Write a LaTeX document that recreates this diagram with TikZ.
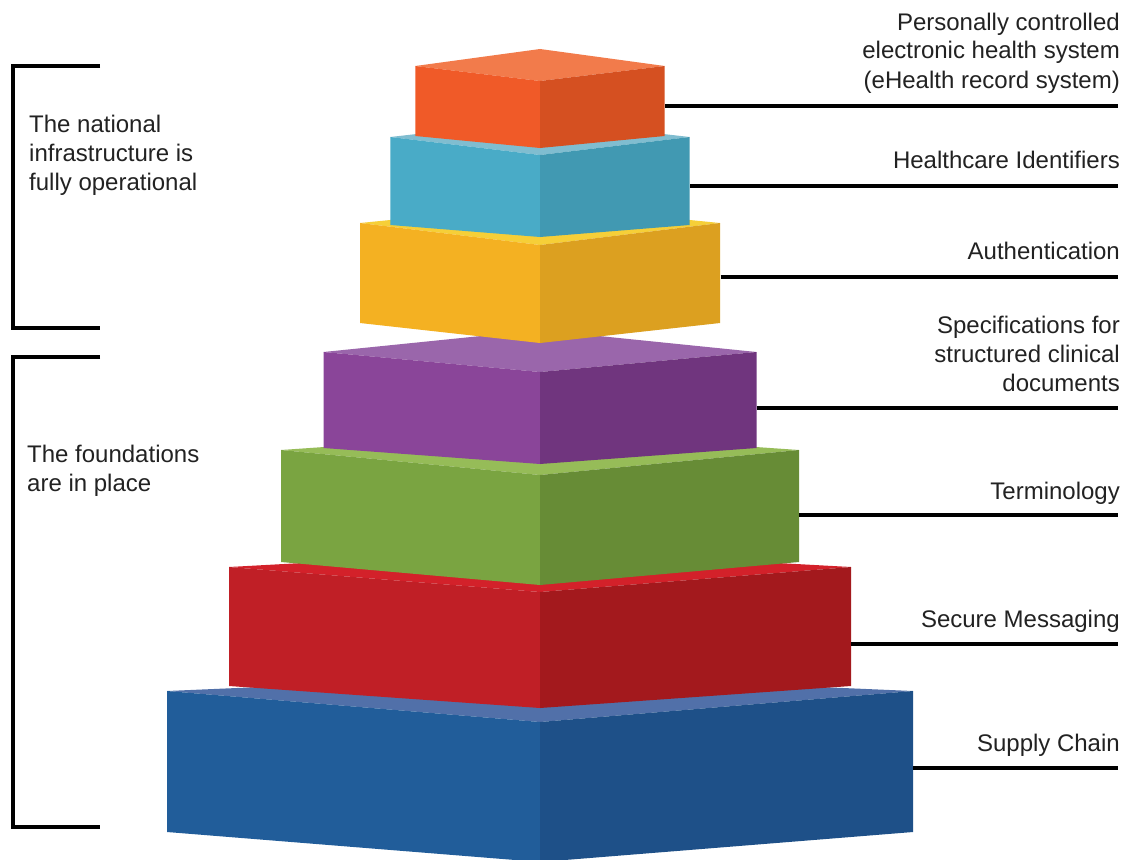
\documentclass[tikz,border=0pt]{standalone}
\usepackage{fontspec}
\setmainfont{Liberation Sans}
\definecolor{labelgray}{HTML}{222222}
% block colours: T = top face, L = left front, R = right front
\definecolor{orT}{HTML}{F27B4B}\definecolor{orL}{HTML}{F05A28}\definecolor{orR}{HTML}{D55021}
\definecolor{cyT}{HTML}{80BDD0}\definecolor{cyL}{HTML}{49ABC7}\definecolor{cyR}{HTML}{4199B2}
\definecolor{yeT}{HTML}{F6CF38}\definecolor{yeL}{HTML}{F4B122}\definecolor{yeR}{HTML}{DCA020}
\definecolor{puT}{HTML}{9A66AB}\definecolor{puL}{HTML}{8A4599}\definecolor{puR}{HTML}{70357E}
\definecolor{grT}{HTML}{96BC58}\definecolor{grL}{HTML}{7AA441}\definecolor{grR}{HTML}{678C36}
\definecolor{reT}{HTML}{D3212A}\definecolor{reL}{HTML}{C01F26}\definecolor{reR}{HTML}{A3191D}
\definecolor{blT}{HTML}{5170A9}\definecolor{blL}{HTML}{215D9A}\definecolor{blR}{HTML}{1E5088}
% #1 colour prefix, #2 half width, #3 top corner y, #4 top front y, #5 top back y,
% #6 bottom corner y, #7 bottom centre y
\newcommand\pyrblock[7]{%
  \fill[#1T] (540-#2,#3) -- (540,#5) -- (540+#2,#3) -- (540,#4) -- cycle;
  \fill[#1L] (540-#2,#3) -- (540,#4) -- (540.4,#4) -- (540.4,#7) -- (540,#7) -- (540-#2,#6) -- cycle;
  \fill[#1R] (540,#4) -- (540+#2,#3) -- (540+#2,#6) -- (540,#7) -- cycle;
}
\begin{document}
\begin{tikzpicture}[x=1pt,y=-1pt,
  lbl/.style={font=\fontsize{24}{29}\selectfont, text=labelgray, inner sep=0pt},
  conn/.style={line width=3.2pt, black},
  brack/.style={line width=3.6pt, black}]
\fill[white] (0,0) rectangle (1131,859);
\useasboundingbox (0,0) rectangle (1131,859);

% pyramid, bottom to top
\pyrblock{bl}{373}{691}{722}{675}{832}{862}
\pyrblock{re}{311}{567}{592}{550}{686}{708}
\pyrblock{gr}{259}{450}{475}{432}{562}{585}
\pyrblock{pu}{216.5}{352}{372}{330}{448}{464}
\pyrblock{ye}{180}{223}{245}{205}{323}{343}
\pyrblock{cy}{149.7}{137}{155}{120}{225}{237}
\pyrblock{or}{124.7}{66}{81}{49}{136}{148}

% connector end points
\coordinate (ehr-a) at (665,106);   \coordinate (ehr-b) at (1118,106);
\coordinate (hid-a) at (690,186);   \coordinate (hid-b) at (1118,186);
\coordinate (auth-a) at (720.5,277); \coordinate (auth-b) at (1118,277);
\coordinate (spec-a) at (756.5,408); \coordinate (spec-b) at (1118,408);
\coordinate (term-a) at (799,515);  \coordinate (term-b) at (1118,515);
\coordinate (msg-a) at (851,644);   \coordinate (msg-b) at (1118,644);
\coordinate (sup-a) at (913,768);   \coordinate (sup-b) at (1118,768);
\draw[conn] (ehr-a) -- (ehr-b);
\draw[conn] (hid-a) -- (hid-b);
\draw[conn] (auth-a) -- (auth-b);
\draw[conn] (spec-a) -- (spec-b);
\draw[conn] (term-a) -- (term-b);
\draw[conn] (msg-a) -- (msg-b);
\draw[conn] (sup-a) -- (sup-b);

% right labels (multi-line nodes: base = last line)
\node[lbl, anchor=base east, align=right] (l-ehr) at (1120,88)
  {Personally controlled\\electronic health system\\(eHealth record system)};
\node[lbl, anchor=base east] (l-hid) at (1120,168) {Healthcare Identifiers};
\node[lbl, anchor=base east] (l-auth) at (1120,259) {Authentication};
\node[lbl, anchor=base east, align=right] (l-spec) at (1120,391)
  {Specifications for\\structured clinical\\documents};
\node[lbl, anchor=base east] (l-term) at (1120,499) {Terminology};
\node[lbl, anchor=base east] (l-msg) at (1120,627) {Secure Messaging};
\node[lbl, anchor=base east] (l-sup) at (1120,751) {Supply Chain};

% left brackets
\coordinate (b1-t) at (100,66);  \coordinate (b1-b) at (100,328);
\coordinate (b2-t) at (100,357); \coordinate (b2-b) at (100,827);
\draw[brack] (b1-t) -- (13,66) -- (13,328) -- (b1-b);
\draw[brack] (b2-t) -- (13,357) -- (13,827) -- (b2-b);

\node[lbl, anchor=base west, align=left] (l-nat) at (29,190)
  {The national\\infrastructure is\\fully operational};
\node[lbl, anchor=base west, align=left] (l-fnd) at (27,491)
  {The foundations\\are in place};
\end{tikzpicture}
\end{document}
